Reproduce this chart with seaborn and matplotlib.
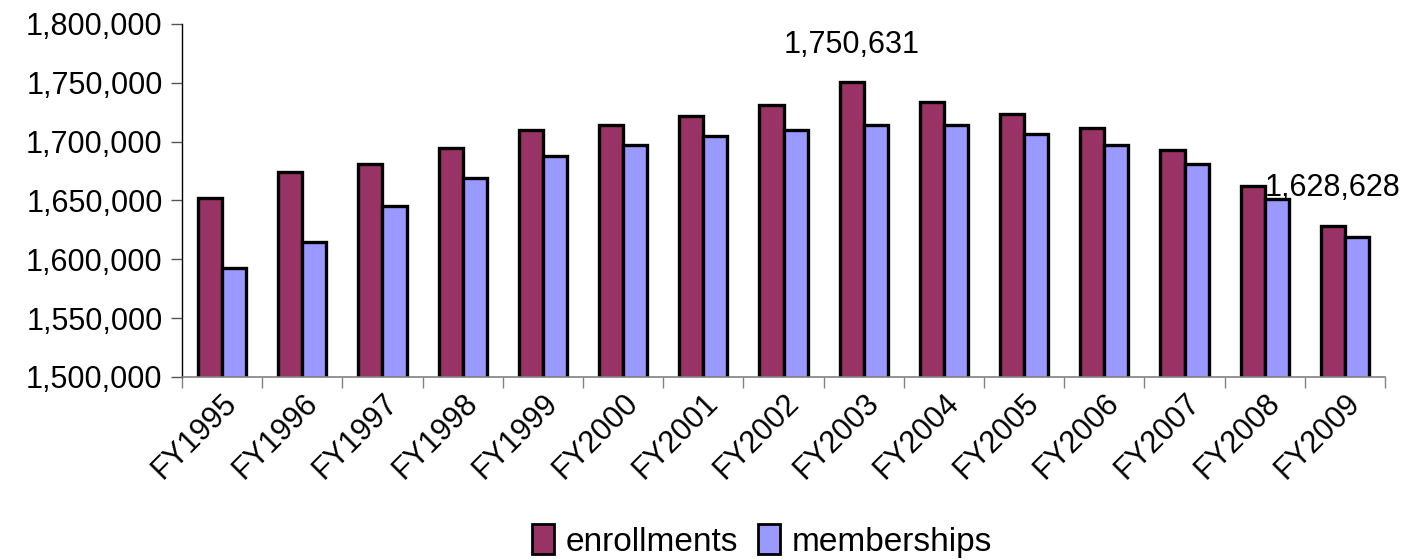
import matplotlib
matplotlib.use("Agg")
import matplotlib.pyplot as plt
import matplotlib.ticker as mticker
import numpy as np
import pandas as pd
import seaborn as sns

years = ["FY1995", "FY1996", "FY1997", "FY1998", "FY1999", "FY2000", "FY2001",
         "FY2002", "FY2003", "FY2004", "FY2005", "FY2006", "FY2007", "FY2008", "FY2009"]
enrollments = [1652100, 1674000, 1680800, 1695000, 1709700, 1714300, 1721400,
               1731000, 1750631, 1733900, 1723600, 1712000, 1693000, 1662000, 1628628]
memberships = [1592800, 1614400, 1645300, 1668900, 1687900, 1697500, 1704600,
               1709700, 1714300, 1714300, 1706900, 1697500, 1680800, 1651300, 1618900]
series_names = ["enrollments", "memberships"]
series_colors = ["#993366", "#9999FF"]
labelled = {"FY2003": 1750631, "FY2009": 1628628}

df = pd.DataFrame({
    "year": years * 2,
    "value": enrollments + memberships,
    "series": [series_names[0]] * len(years) + [series_names[1]] * len(years),
})

sns.set_theme(style="white")
plt.rcParams["font.family"] = ["Liberation Sans", "DejaVu Sans"]
plt.rcParams["text.color"] = "black"
plt.rcParams["xtick.labelcolor"] = "black"
plt.rcParams["ytick.labelcolor"] = "black"

fig = plt.figure(figsize=(14.03, 5.59), dpi=100)
ax = fig.add_axes([0.1297, 0.3256, 0.8575, 0.6315])

sns.barplot(data=df, x="year", y="value", hue="series", order=years,
            hue_order=series_names, palette=series_colors, saturation=1,
            width=0.6, gap=0, dodge=True, ax=ax, edgecolor="black",
            linewidth=2.4, legend=False)

ax.set_ylim(1500000, 1800000)
ax.set_xlim(-0.5, len(years) - 0.5)
ax.yaxis.set_major_locator(mticker.MultipleLocator(50000))
ax.yaxis.set_major_formatter(mticker.FuncFormatter(lambda v, p: f"{int(v):,}"))
ax.tick_params(axis="y", which="major", direction="out", length=8, width=1,
               color="#555555", labelsize=22, pad=6, left=True)
ax.set_xticks(np.arange(len(years)))
ax.set_xticklabels(years, rotation=45, ha="right", rotation_mode="anchor")
ax.set_xticks(np.arange(len(years) + 1) - 0.5, minor=True)
ax.tick_params(axis="x", which="major", length=0, labelsize=22, pad=8)
ax.tick_params(axis="x", which="minor", direction="out", length=8, width=1,
               color="#808080", bottom=True)
ax.set_xlabel("")
ax.set_ylabel("")

for side in ["top", "right"]:
    ax.spines[side].set_visible(False)
ax.spines["left"].set_color("black")
ax.spines["left"].set_linewidth(1)
ax.spines["bottom"].set_color("#808080")
ax.spines["bottom"].set_linewidth(1.2)

# value labels over the enrollment bars
enroll_bars = ax.containers[0]
for bar, yr in zip(enroll_bars, years):
    if yr in labelled:
        ax.annotate(f"{labelled[yr]:,}",
                    (bar.get_x() + bar.get_width() / 2, labelled[yr]),
                    xytext=(0, 27), textcoords="offset points",
                    ha="center", va="center", fontsize=22, color="black",
                    annotation_clip=False)

handles = [plt.Rectangle((0, 0), 1, 1, facecolor=c, edgecolor="black", linewidth=2)
           for c in series_colors]
fig.legend(handles, series_names, loc="center", bbox_to_anchor=(0.543, 0.032),
           ncol=2, frameon=False, fontsize=24, handlelength=0.65, handleheight=1.0,
           handletextpad=0.35, columnspacing=0.6)

fig.savefig("out.png", dpi=100, facecolor="white")
